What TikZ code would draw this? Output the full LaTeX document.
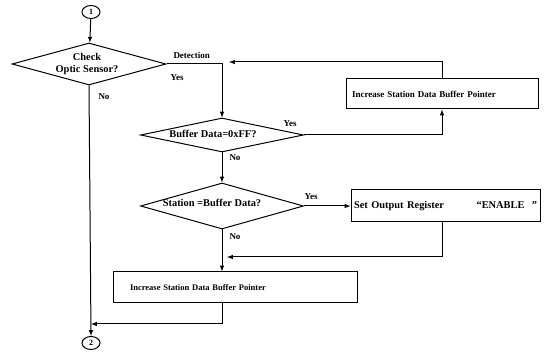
\documentclass[tikz,border=0pt]{standalone}
\usepackage{fontspec}
\setmainfont{Liberation Serif}
\usetikzlibrary{arrows}
\usetikzlibrary{shapes.geometric}
\usetikzlibrary{calc}

\begin{document}
\begin{tikzpicture}[x=1pt,y=-1pt,>=latex,line width=1pt,
  font=\bfseries\fontsize{10.4}{12}\selectfont,
  decision/.style={draw,diamond,inner sep=0pt,aspect=3.8,align=center},
  process/.style={draw,rectangle,inner ysep=0pt,align=left},
  connector/.style={draw,ellipse,minimum width=18pt,minimum height=13pt,inner sep=0pt,font=\bfseries\fontsize{8}{9}\selectfont},
  branch/.style={inner sep=0pt,font=\bfseries\fontsize{9}{10}\selectfont}]

  \useasboundingbox (0,0) rectangle (547,355);

  \node[connector] (start) at (91,12) {1};
  \node[decision,minimum width=154pt,minimum height=42pt,
    label={[xshift=-2pt,align=center,inner sep=0pt]center:Check\\Optic Sensor?}] (sensor) at (89,64) {};
  \node[decision,minimum width=163pt,minimum height=34pt,
    label={[xshift=-9pt,yshift=1pt,inner sep=0pt]center:Buffer Data=0xFF?}] (buffer) at (222,135) {};
  \node[decision,minimum width=163pt,minimum height=46pt,
    label={[xshift=-10pt,yshift=3pt,inner sep=0pt]center:Station =Buffer Data?}] (station) at (222,206) {};
  \node[process,minimum width=192pt,minimum height=30pt,inner xsep=6pt,text width=180pt,font=\bfseries\fontsize{9}{10}\selectfont] (incr1) at (442,94) {Increase Station Data Buffer Pointer};
  \node[process,minimum width=189pt,minimum height=32pt,inner xsep=3pt,text width=183pt] (output) at (445.5,206) {Set Output Register\hfill``ENABLE\hspace{0.7em}''};
  \node[process,minimum width=244pt,minimum height=31pt,inner xsep=17pt,text width=210pt,font=\bfseries\fontsize{8.5}{10}\selectfont] (incr2) at (235,287.5) {Increase Station Data Buffer Pointer};
  \node[connector] (finish) at (91,343) {2};

  \coordinate (back1) at (229,62);
  \coordinate (back2) at (227,257);
  \coordinate (merge) at (91,324);

  \draw[->] (start) -- (sensor);
  \draw[->] (sensor.east) -| (buffer.north);
  \draw[->] (incr1.north) |- (back1);
  \draw[->] (buffer.east) -| (incr1.south);
  \draw[->] (buffer) -- (station);
  \draw[->] (station) -- (output);
  \draw[->] ($(output.south)+(-3,0)$) |- (back2);
  \draw[->] (station.south) -- (station.south |- incr2.north);
  \draw[->] (station.south |- incr2.south) |- (merge);
  \draw[->] (sensor.south) -- (finish.north);

  \node[branch,anchor=south west] (detect) at (173,59) {Detection};
  \node[branch] (yes1) at (177,78) {Yes};
  \node[branch] (no1) at (104,97) {No};
  \node[branch] (yes2) at (290,124) {Yes};
  \node[branch] (no2) at (235,158) {No};
  \node[branch] (yes3) at (311,197) {Yes};
  \node[branch] (no3) at (235,237) {No};
\end{tikzpicture}
\end{document}
